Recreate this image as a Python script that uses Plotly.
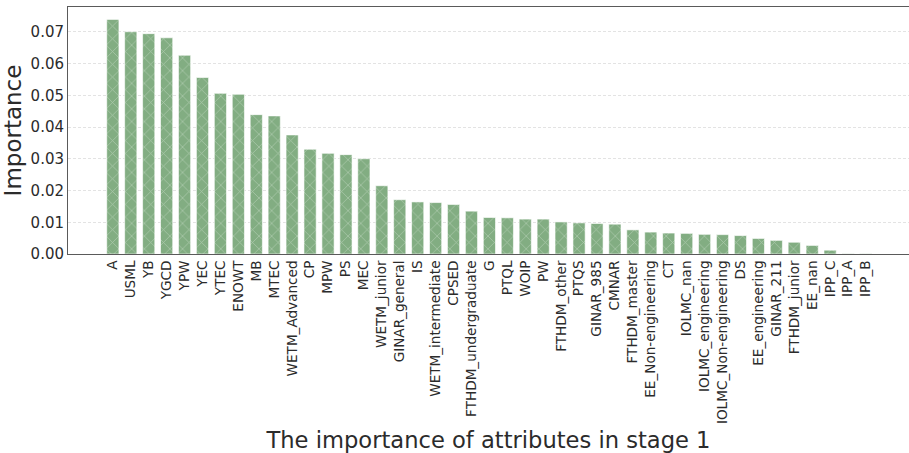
import plotly.graph_objects as go

# Feature importances for stage 1, sorted in descending order
attributes = [
    "A", "USML", "YB", "YGCD", "YPW", "YEC", "YTEC", "ENOWT", "MB", "MTEC",
    "WETM_Advanced", "CP", "MPW", "PS", "MEC", "WETM_junior", "GINAR_general",
    "IS", "WETM_intermediate", "CPSED", "FTHDM_undergraduate", "G", "PTQL",
    "WOIP", "PW", "FTHDM_other", "PTQS", "GINAR_985", "CMNAR", "FTHDM_master",
    "EE_Non-engineering", "CT", "IOLMC_nan", "IOLMC_engineering",
    "IOLMC_Non-engineering", "DS", "EE_engineering", "GINAR_211",
    "FTHDM_junior", "EE_nan", "IPP_C", "IPP_A", "IPP_B",
]
importance = [
    0.0739, 0.0700, 0.0694, 0.0681, 0.0626, 0.0556, 0.0506, 0.0503, 0.0439, 0.0435,
    0.0375, 0.0330, 0.0317, 0.0313, 0.0300, 0.0215, 0.0171,
    0.0164, 0.0162, 0.0156, 0.0135, 0.0115, 0.0114,
    0.0110, 0.0110, 0.0101, 0.0098, 0.0096, 0.0094, 0.0076,
    0.0069, 0.0066, 0.0065, 0.0062,
    0.0061, 0.0058, 0.0049, 0.0043,
    0.0037, 0.0027, 0.0012, 0.0001, 0.0001,
]
y_ticks = [0.00, 0.01, 0.02, 0.03, 0.04, 0.05, 0.06, 0.07]

FONT = "DejaVu Sans"
TEXT = "#2b2b2b"
SPINE = "#5a5a5a"

fig = go.Figure(
    go.Bar(
        x=list(range(len(attributes))),
        y=importance,
        width=0.68,
        marker=dict(
            color="#82ad82",
            line=dict(color="rgba(255,255,255,0.6)", width=1),
            pattern=dict(
                shape="x",
                fillmode="overlay",
                fgcolor="rgba(225,238,225,0.9)",
                size=9,
                solidity=0.15,
            ),
        ),
    )
)

fig.update_layout(
    width=909,
    height=453,
    margin=dict(l=68, r=0, t=7, b=199),
    paper_bgcolor="white",
    plot_bgcolor="white",
    showlegend=False,
    font=dict(family=FONT, color=TEXT),
)

# Bottom spine plus a mirrored top spine; the right side stays open
fig.update_xaxes(
    tickmode="array",
    tickvals=list(range(len(attributes))),
    ticktext=attributes,
    tickangle=-90,
    tickfont=dict(family=FONT, size=13.6, color=TEXT),
    range=[-2.5, 44.4],
    showgrid=False,
    zeroline=False,
    showline=True,
    linecolor=SPINE,
    linewidth=1,
    mirror=True,
    ticks="",
    title=dict(
        text="The importance of attributes in stage 1",
        font=dict(family=FONT, size=22.6, color=TEXT),
        standoff=9,
    ),
)

fig.update_yaxes(
    tickmode="array",
    tickvals=y_ticks,
    ticktext=[f"{v:.2f}" for v in y_ticks],
    tickfont=dict(family=FONT, size=15, color=TEXT),
    range=[0, 0.0778],
    showgrid=True,
    gridcolor="#e3e3e3",
    griddash="3px,2px",
    gridwidth=1,
    zeroline=False,
    showline=True,
    linecolor=SPINE,
    linewidth=1,
    mirror=False,
    ticks="",
    title=dict(
        text="Importance",
        font=dict(family=FONT, size=23, color=TEXT),
        standoff=4,
    ),
)

fig.write_html("out.html")
